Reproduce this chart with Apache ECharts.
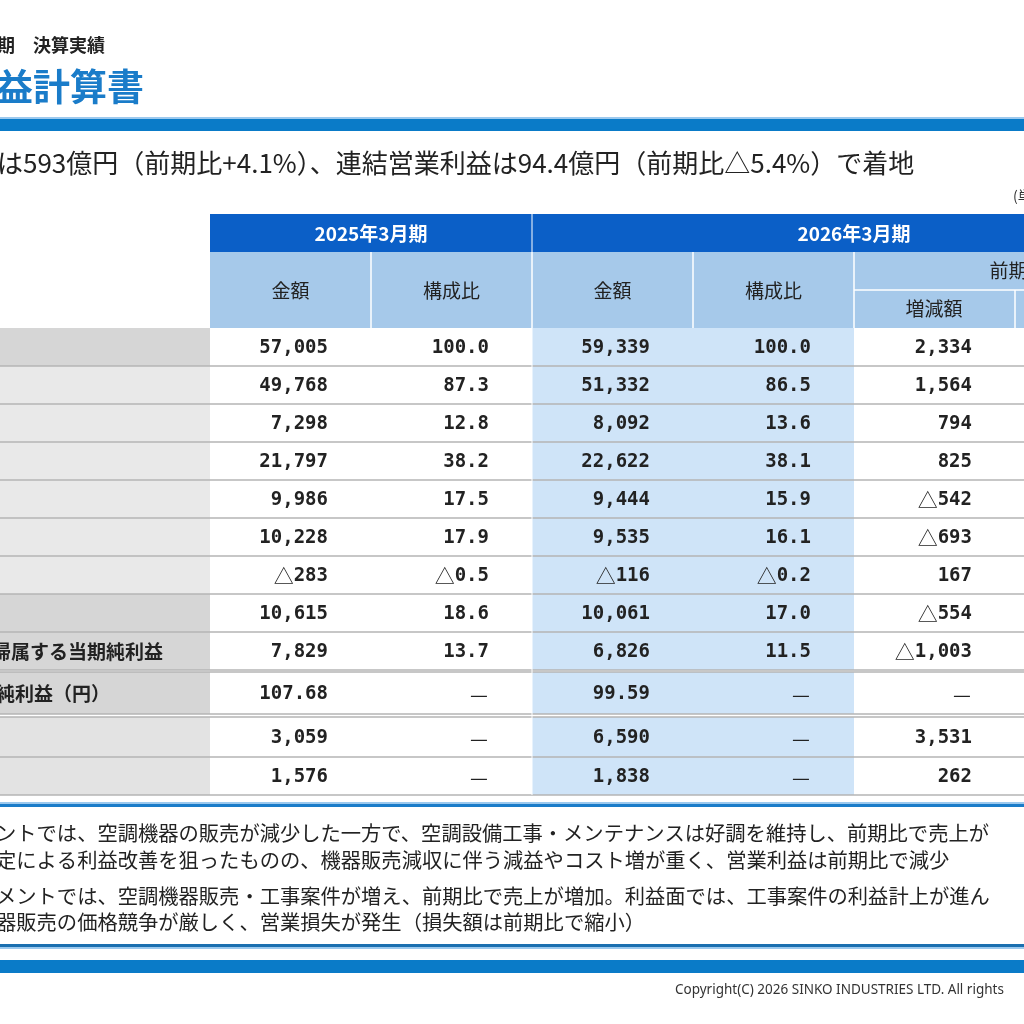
<!DOCTYPE html>
<html><head><meta charset="utf-8">
<script src="https://cdn.jsdelivr.net/npm/echarts@6/dist/echarts.min.js"></script>
<style>html,body{margin:0;padding:0;background:#fff}#c{width:1024px;height:1024px}</style>
</head><body><div id="c"></div>
<script>
var rowLabels = ['売上高','売上原価','売上総利益','販管費','営業利益','経常利益前','営業外損益','経常利益','親会社株主に帰属する当期純利益','1株当たり当期純利益（円）','設備投資','減価償却費'];
var amt2025 = ['57,005','49,768','7,298','21,797','9,986','10,228','△283','10,615','7,829','107.68','3,059','1,576'];
var ratio2025 = ['100.0','87.3','12.8','38.2','17.5','17.9','△0.5','18.6','13.7','—','—','—'];
var amt2026 = ['59,339','51,332','8,092','22,622','9,444','9,535','△116','10,061','6,826','99.59','6,590','1,838'];
var ratio2026 = ['100.0','86.5','13.6','38.1','15.9','16.1','△0.2','17.0','11.5','—','—','—'];
var diff = ['2,334','1,564','794','825','△542','△693','167','△554','△1,003','—','3,531','262'];
var notes = [
 'ントでは、空調機器の販売が減少した一方で、空調設備工事・メンテナンスは好調を維持し、前期比で売上が',
 '定による利益改善を狙ったものの、機器販売減収に伴う減益やコスト増が重く、営業利益は前期比で減少',
 'メントでは、空調機器販売・工事案件が増え、前期比で売上が増加。利益面では、工事案件の利益計上が進ん',
 '器販売の価格競争が厳しく、営業損失が発生（損失額は前期比で縮小）'
];

var NUMF = '"DejaVu Sans Mono","Noto Sans CJK JP",monospace';
var JP = '"Noto Sans CJK JP",sans-serif';
var g = [];
function rect(x,y,w,h,fill){g.push({type:'rect',shape:{x:x,y:y,width:w,height:h},style:{fill:fill},silent:true});}
function line(x1,y1,x2,y2,c,w){g.push({type:'line',shape:{x1:x1,y1:y1,x2:x2,y2:y2},style:{stroke:c,lineWidth:w||1},silent:true});}
function text(t,x,y,o){o=o||{};g.push({type:'text',x:x,y:y,style:{text:t,fill:o.fill||'#222',font:(o.weight||'normal')+' '+(o.size||16)+'px '+(o.family||JP),textAlign:o.align||'left',textVerticalAlign:'middle'},silent:true});}
function num(v,x,y){
  var neg = v.charAt(0)==='△';
  var body = neg ? v.slice(1) : v;
  g.push({type:'text',x:x,y:y,silent:true,style:{
    text:(neg?'{t|△}':'')+'{n|'+body+'}',
    textAlign:'right',textVerticalAlign:'middle',
    rich:{t:{font:'normal 20px '+JP,fill:'#222'},n:{font:'bold 19px '+NUMF,fill:'#222'}}
  }});
}

text('期　決算実績',-3,45,{size:18,weight:'bold',fill:'#222'});
text('益計算書',-4,87,{size:37,weight:'bold',fill:'#1a7cc9'});
rect(0,117,1024,2,'#9cc9ee');
rect(0,119,1024,12,'#0a7bc8');
text('は593億円（前期比+4.1%）、連結営業利益は94.4億円（前期比△5.4%）で着地',-3,163,{size:26,fill:'#222'});
text('(単',1013,196,{size:14,fill:'#333'});

var colX = [210,371,532,693,854,1015,1180];
rect(210,214,814,38,'#0b5fc7');
line(532,214,532,252,'#ffffff',1);
text('2025年3月期',371,234,{size:19,weight:'bold',fill:'#fff',align:'center'});
text('2026年3月期',854,234,{size:19,weight:'bold',fill:'#fff',align:'center'});
rect(210,252,814,76,'#a6c9ea');
for (var i=1;i<5;i++) line(colX[i],252,colX[i],328,'#ffffff',1.5);
line(854,290,1024,290,'#ffffff',1.5);
line(1015,290,1015,328,'#ffffff',1.5);
var hdr=['金額','構成比','金額','構成比'];
for (i=0;i<4;i++) text(hdr[i],(colX[i]+colX[i+1])/2,291,{size:19,fill:'#222',align:'center'});
text('前期比',1018,271,{size:19,fill:'#222',align:'center'});
text('増減額',934,309,{size:19,fill:'#222',align:'center'});

var rowTop = [328,366,404,442,480,518,556,594,632,672,717,757];
var rowH = [38,38,38,38,38,38,38,38,38,42,40,38];
var labelFill = ['#d6d6d6','#e9e9e9','#e9e9e9','#e9e9e9','#e9e9e9','#e9e9e9','#e9e9e9','#d6d6d6','#d6d6d6','#d6d6d6','#e3e3e3','#e3e3e3'];
var cols = [amt2025,ratio2025,amt2026,ratio2026,diff];
for (var r=0;r<rowLabels.length;r++){
  var y=rowTop[r], h=rowH[r], cy=y+h/2+1;
  rect(0,y,210,h,labelFill[r]);
  rect(532,y,322,h,'#cfe4f8');
  for (var c=0;c<5;c++){
    var v=cols[c][r];
    if(v==='—') text('—',colX[c+1]-53,cy,{size:20,fill:'#222',family:JP,align:'center'});
    else num(v,colX[c+1]-43,cy);
  }
}
text('帰属する当期純利益',-8,652,{size:19,weight:'bold',fill:'#222'});
text('純利益（円）',-4,694,{size:19,weight:'bold',fill:'#222'});
for (r=1;r<rowTop.length;r++){ line(0,rowTop[r],1024,rowTop[r],'#b5b5b5',1.5); }
line(0,670,1024,670,'#b5b5b5',1.5);
line(0,714,1024,714,'#b5b5b5',1.5);
line(0,795,1024,795,'#b5b5b5',1.5);
line(532,328,532,795,'#ffffff',1);

rect(0,802,1024,2,'#9cc9ee');
rect(0,804,1024,3,'#1a7cc9');
text(notes[0],-4,833,{size:20.3});
text(notes[1],-4,860,{size:20.3});
text(notes[2],-4,896,{size:20.3});
text(notes[3],-4,922,{size:20.3});
rect(0,944,1024,3,'#1a6fb0');
rect(0,947,1024,2,'#9cc9ee');
rect(0,960,1024,13,'#0a7bc8');
text('Copyright(C) 2026 SINKO INDUSTRIES LTD. All rights',675,990,{size:13.5,fill:'#333',family:'"Noto Sans",sans-serif'});

var chart = echarts.init(document.getElementById('c'));
chart.setOption({animation:false,graphic:g});
</script></body></html>
